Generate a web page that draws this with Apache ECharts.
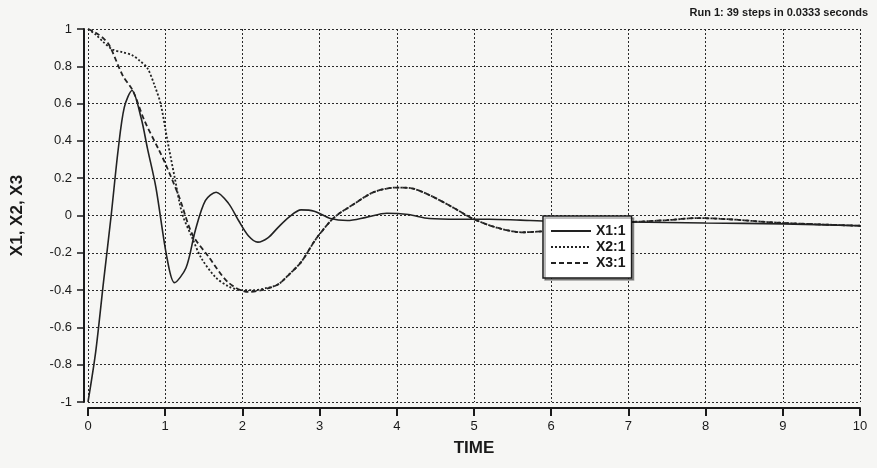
<!DOCTYPE html>
<html>
<head>
<meta charset="utf-8">
<script src="https://cdn.jsdelivr.net/npm/echarts@6/dist/echarts.min.js"></script>
<style>
html,body{margin:0;padding:0;background:#f6f6f4;}
#chart{width:877px;height:468px;}
</style>
</head>
<body>
<div id="chart"></div>
<script>
var TITLE = 'Run 1: 39 steps in 0.0333 seconds';
var X_NAME = 'TIME';
var Y_NAME = 'X1, X2, X3';
var SERIES_NAMES = ['X1:1', 'X2:1', 'X3:1'];

var X1_T = [0, 0.1, 0.2, 0.3, 0.39, 0.47, 0.57, 0.69, 0.77, 0.88, 1.02, 1.12, 1.27, 1.39, 1.52, 1.66, 1.82, 1.95, 2.08, 2.2, 2.33, 2.46, 2.6, 2.76, 2.93, 3.14, 3.36, 3.6, 3.87, 4.15, 4.42, 4.8, 5.2, 5.6, 6.0, 7.0, 8.0, 9.0, 10];
var X1_V = [-1, -0.73, -0.36, 0, 0.35, 0.58, 0.67, 0.52, 0.36, 0.15, -0.22, -0.36, -0.28, -0.08, 0.08, 0.125, 0.065, -0.027, -0.11, -0.143, -0.12, -0.065, -0.01, 0.03, 0.023, -0.016, -0.027, -0.01, 0.012, 0.005, -0.016, -0.02, -0.02, -0.025, -0.03, -0.035, -0.04, -0.045, -0.055];

var X2_T = [0, 0.1, 0.2, 0.32, 0.45, 0.57, 0.67, 0.77, 0.86, 0.94, 1.03, 1.12, 1.22, 1.35, 1.47, 1.65, 1.82, 1.99, 2.15, 2.3, 2.46, 2.62, 2.76, 2.93, 3.0, 3.19, 3.44, 3.7, 4.0, 4.2, 4.42, 4.72, 4.98, 5.28, 5.62, 6.0, 6.5, 7.0, 7.5, 7.88, 8.3, 8.8, 9.3, 10];
var X2_V = [1, 0.97, 0.93, 0.89, 0.875, 0.86, 0.83, 0.79, 0.7, 0.6, 0.40, 0.21, 0.01, -0.12, -0.23, -0.33, -0.38, -0.40, -0.40, -0.39, -0.37, -0.31, -0.25, -0.14, -0.10, -0.01, 0.06, 0.125, 0.15, 0.145, 0.11, 0.045, -0.016, -0.063, -0.09, -0.08, -0.05, -0.036, -0.025, -0.014, -0.02, -0.035, -0.045, -0.055];

var X3_T = [0, 0.1, 0.2, 0.28, 0.45, 0.58, 0.73, 0.92, 1.0, 1.18, 1.35, 1.56, 1.82, 2.08, 2.25, 2.46, 2.62, 2.76, 2.93, 3.0, 3.19, 3.44, 3.7, 4.0, 4.2, 4.42, 4.72, 4.98, 5.28, 5.62, 6.0, 6.5, 7.0, 7.5, 7.88, 8.3, 8.8, 9.3, 10];
var X3_V = [1, 0.98, 0.95, 0.91, 0.75, 0.67, 0.51, 0.35, 0.28, 0.1, -0.1, -0.22, -0.36, -0.41, -0.40, -0.37, -0.31, -0.25, -0.14, -0.1, -0.01, 0.06, 0.125, 0.15, 0.145, 0.11, 0.045, -0.016, -0.063, -0.09, -0.08, -0.05, -0.036, -0.025, -0.014, -0.02, -0.035, -0.045, -0.055];

function pairs(t, v) { return t.map(function (x, i) { return [x, v[i]]; }); }

var FONT = '"Liberation Sans", Arial, sans-serif';
var INK = '#1a1a1a';

var chart = echarts.init(document.getElementById('chart'), null, {renderer: 'canvas'});
chart.setOption({
  backgroundColor: '#f6f6f4',
  animation: false,
  title: {
    text: TITLE, right: 4, top: 2,
    textStyle: {fontFamily: FONT, fontSize: 11, fontWeight: 'bold', color: INK}
  },
  grid: {left: 88, right: 17, top: 29, bottom: 66},
  xAxis: {
    type: 'value', min: 0, max: 10, interval: 1, offset: 6,
    name: X_NAME, nameLocation: 'middle', nameGap: 32,
    nameTextStyle: {fontFamily: FONT, fontSize: 17, fontWeight: 'bold', color: INK},
    axisLine: {show: true, onZero: false, lineStyle: {color: INK, width: 2}},
    axisTick: {show: true, length: 8, lineStyle: {color: INK, width: 2}},
    axisLabel: {fontFamily: FONT, fontSize: 13, color: INK, margin: 12},
    splitLine: {show: true, lineStyle: {color: '#2a2a2a', width: 1, type: [2, 2]}}
  },
  yAxis: {
    type: 'value', min: -1, max: 1, interval: 0.2, offset: 4,
    name: Y_NAME, nameLocation: 'middle', nameGap: 58, nameRotate: 90,
    nameTextStyle: {fontFamily: FONT, fontSize: 17, fontWeight: 'bold', color: INK},
    axisLine: {show: true, onZero: false, lineStyle: {color: INK, width: 2}},
    axisTick: {show: true, length: 7, lineStyle: {color: INK, width: 1.5}},
    axisLabel: {fontFamily: FONT, fontSize: 13, color: INK, margin: 12},
    splitLine: {show: true, lineStyle: {color: '#2a2a2a', width: 1, type: [2, 2]}}
  },
  legend: {
    orient: 'vertical', left: 543, top: 216,
    itemWidth: 40, itemHeight: 14, itemGap: 2,
    padding: [8, 6, 8, 7],
    backgroundColor: '#ffffff', borderColor: INK, borderWidth: 1.5,
    shadowColor: 'rgba(0,0,0,0.35)', shadowOffsetX: 2, shadowOffsetY: 2, shadowBlur: 0,
    itemStyle: {color: 'rgba(0,0,0,0)', borderWidth: 0},
    textStyle: {fontFamily: FONT, fontSize: 14, fontWeight: 'bold', color: INK},
    data: SERIES_NAMES
  },
  series: [
    {name: SERIES_NAMES[0], type: 'line', data: pairs(X1_T, X1_V), symbol: 'none', smooth: 0.3,
     lineStyle: {color: '#222', width: 1.6, type: 'solid'}, itemStyle: {color: '#222'}},
    {name: SERIES_NAMES[1], type: 'line', data: pairs(X2_T, X2_V), symbol: 'none', smooth: 0.3,
     lineStyle: {color: '#222', width: 1.8, type: [2, 2]}, itemStyle: {color: '#222'}},
    {name: SERIES_NAMES[2], type: 'line', data: pairs(X3_T, X3_V), symbol: 'none', smooth: 0.3,
     lineStyle: {color: '#222', width: 1.8, type: [5, 3]}, itemStyle: {color: '#222'}}
  ]
});
</script>
</body>
</html>
